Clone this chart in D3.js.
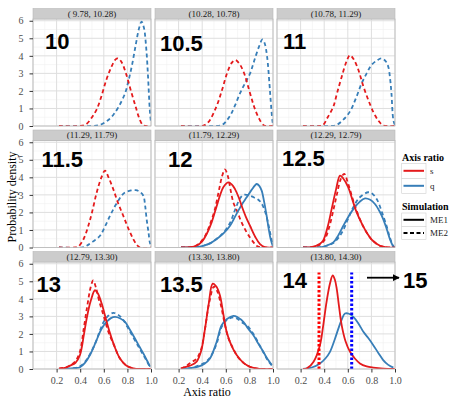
<!DOCTYPE html>
<html><head><meta charset="utf-8">
<script src="https://cdn.jsdelivr.net/npm/d3@7"></script>
<style>body{margin:0;background:#fff}svg{display:block}</style>
</head><body>
<svg id="c" width="450" height="399"></svg>
<script>
const stripLabels = ["( 9.78, 10.28)","(10.28, 10.78)","(10.78, 11.29)","(11.29, 11.79)","(11.79, 12.29)","(12.29, 12.79)","(12.79, 13.30)","(13.30, 13.80)","(13.80, 14.30)"];
const bigLabels = ["10","10.5","11","11.5","12","12.5","13","13.5","14"];
const xTicks = [0.2,0.4,0.6,0.8,1.0];
const yTicks = [0,1,2,3,4,5,6];

const sME1 = [null,null,null,null,
 [[0.22,0],[0.3,0.02],[0.35,0.1],[0.4,0.35],[0.44,0.8],[0.48,1.43],[0.52,2.3],[0.55,2.95],[0.58,3.45],[0.62,3.71],[0.65,3.6],[0.678,3.33],[0.71,2.85],[0.734,2.38],[0.77,1.75],[0.805,1.24],[0.85,0.6],[0.89,0.19],[0.93,0.02],[1,0]],
 [[0.22,0],[0.3,0.03],[0.36,0.2],[0.39,0.38],[0.43,1.2],[0.463,2.19],[0.5,3.3],[0.534,4.1],[0.56,3.95],[0.604,3.43],[0.64,2.7],[0.675,2.0],[0.72,1.35],[0.76,0.86],[0.81,0.4],[0.873,0.1],[0.93,0.01],[1,0]],
 [[0.22,0.02],[0.28,0.08],[0.314,0.19],[0.36,0.35],[0.398,0.8],[0.43,1.9],[0.455,2.88],[0.49,3.9],[0.525,4.49],[0.55,4.3],[0.582,3.73],[0.62,2.8],[0.653,2.03],[0.69,1.3],[0.737,0.6],[0.79,0.2],[0.85,0.04],[0.9,0],[1,0]],
 [[0.22,0.02],[0.24,0.08],[0.3,0.2],[0.353,0.42],[0.39,1.0],[0.424,2.3],[0.455,3.7],[0.489,4.87],[0.52,4.7],[0.55,4.2],[0.58,3.1],[0.607,2.12],[0.65,1.3],[0.692,0.8],[0.75,0.35],[0.805,0.13],[0.87,0.02],[1,0]],
 [[0.22,0],[0.25,0.02],[0.31,0.42],[0.364,1.36],[0.39,2.4],[0.42,3.83],[0.45,4.9],[0.472,5.34],[0.49,5.1],[0.506,4.58],[0.525,3.6],[0.548,2.5],[0.58,1.6],[0.619,0.98],[0.66,0.6],[0.703,0.32],[0.76,0.15],[0.816,0.08],[0.9,0.02],[1,0]]
];
const sME2 = [
 [[0.22,0],[0.4,0],[0.45,0.1],[0.5,0.5],[0.54,0.95],[0.58,1.7],[0.62,2.6],[0.66,3.3],[0.7,3.8],[0.72,3.85],[0.75,3.65],[0.79,2.95],[0.83,2.0],[0.87,1.1],[0.9,0.45],[0.93,0.05],[0.95,0],[1,0]],
 [[0.22,0],[0.4,0],[0.45,0.2],[0.52,1.1],[0.57,2.1],[0.61,3.0],[0.65,3.6],[0.68,3.76],[0.71,3.6],[0.75,3.1],[0.8,2.0],[0.84,1.1],[0.88,0.45],[0.92,0.05],[0.95,0],[1,0]],
 [[0.22,0],[0.36,0],[0.39,0.05],[0.43,0.5],[0.477,1.1],[0.51,1.9],[0.548,2.8],[0.59,3.7],[0.618,4.04],[0.65,3.8],[0.69,3.19],[0.73,2.3],[0.774,1.48],[0.82,0.75],[0.86,0.3],[0.9,0.03],[0.95,0],[1,0]],
 [[0.22,0],[0.36,0],[0.384,0.05],[0.43,0.5],[0.469,1.24],[0.5,2.0],[0.54,3.14],[0.58,4.0],[0.61,4.38],[0.64,4.0],[0.68,3.33],[0.72,2.55],[0.765,1.81],[0.81,1.05],[0.85,0.48],[0.88,0.15],[0.907,0],[1,0]],
 [[0.22,0],[0.3,0.02],[0.36,0.15],[0.42,0.6],[0.47,1.4],[0.508,2.19],[0.54,3.2],[0.57,4.1],[0.593,4.45],[0.62,4.0],[0.64,3.3],[0.664,2.57],[0.7,2.0],[0.734,1.43],[0.77,0.95],[0.805,0.57],[0.84,0.25],[0.86,0.1],[0.9,0],[1,0]],
 [[0.22,0],[0.3,0.02],[0.36,0.15],[0.4,0.4],[0.44,1.1],[0.48,2.2],[0.51,3.1],[0.54,3.9],[0.57,4.2],[0.6,3.7],[0.64,2.8],[0.68,2.0],[0.72,1.35],[0.76,0.85],[0.81,0.4],[0.873,0.1],[0.93,0.01],[1,0]],
 [[0.22,0.02],[0.28,0.1],[0.314,0.2],[0.36,0.45],[0.398,1.0],[0.43,2.3],[0.46,3.6],[0.49,4.7],[0.51,5.05],[0.535,4.6],[0.56,3.9],[0.6,3.0],[0.64,2.1],[0.69,1.3],[0.737,0.6],[0.79,0.2],[0.85,0.03],[0.9,0],[1,0]],
 [[0.22,0.02],[0.26,0.15],[0.3,0.35],[0.353,0.6],[0.39,1.1],[0.424,2.3],[0.46,3.8],[0.5,4.7],[0.53,4.4],[0.56,3.6],[0.59,2.6],[0.62,1.8],[0.66,1.2],[0.7,0.7],[0.75,0.35],[0.805,0.12],[0.87,0.02],[1,0]],
 null
];
const qME1 = [null,null,null,null,
 [[0.22,0],[0.35,0.02],[0.41,0.1],[0.47,0.25],[0.523,0.48],[0.58,0.8],[0.636,1.24],[0.67,1.65],[0.706,2.1],[0.74,2.5],[0.777,2.86],[0.82,3.3],[0.862,3.62],[0.885,3.5],[0.904,3.24],[0.925,2.6],[0.946,1.81],[0.965,1.0],[0.98,0.48],[1,0.05]],
 [[0.22,0],[0.36,0.01],[0.42,0.1],[0.477,0.29],[0.52,0.7],[0.562,1.24],[0.6,1.7],[0.647,2.19],[0.7,2.6],[0.746,2.8],[0.79,2.72],[0.83,2.48],[0.87,2.05],[0.9,1.62],[0.93,1.05],[0.957,0.48],[0.986,0.06],[1,0]],
 [[0.22,0],[0.3,0.02],[0.35,0.05],[0.398,0.1],[0.44,0.35],[0.483,0.8],[0.53,1.5],[0.568,2.12],[0.6,2.5],[0.624,2.69],[0.66,2.9],[0.695,2.97],[0.74,2.88],[0.78,2.69],[0.82,2.25],[0.864,1.74],[0.9,1.3],[0.935,0.89],[0.965,0.5],[0.992,0.13]],
 [[0.22,0],[0.3,0.05],[0.367,0.13],[0.42,0.3],[0.466,0.6],[0.52,1.5],[0.565,2.5],[0.61,2.85],[0.664,3.03],[0.7,2.95],[0.749,2.69],[0.79,2.3],[0.834,1.93],[0.875,1.45],[0.918,0.98],[0.955,0.55],[0.99,0.23]],
 [[0.22,0],[0.3,0.1],[0.364,0.32],[0.41,0.6],[0.449,0.98],[0.49,1.7],[0.52,2.3],[0.55,2.85],[0.576,3.16],[0.61,3.15],[0.647,2.97],[0.69,2.6],[0.732,2.12],[0.775,1.75],[0.816,1.36],[0.86,0.9],[0.9,0.51],[0.94,0.25],[0.986,0.08]]
];
const qME2 = [
 [[0.22,0],[0.5,0],[0.57,0.07],[0.63,0.3],[0.68,0.63],[0.73,1.15],[0.78,1.86],[0.81,2.6],[0.84,3.5],[0.87,4.6],[0.9,5.6],[0.92,5.95],[0.94,5.6],[0.96,4.4],[0.975,2.8],[0.99,0.9],[1.0,0.2]],
 [[0.22,0],[0.5,0],[0.565,0.05],[0.6,0.25],[0.64,0.63],[0.68,1.2],[0.72,1.86],[0.76,2.4],[0.806,3.0],[0.84,3.7],[0.88,4.5],[0.91,4.93],[0.93,4.7],[0.95,3.95],[0.97,2.4],[0.98,1.48],[0.995,0.3],[1,0.1]],
 [[0.22,0],[0.45,0],[0.505,0.06],[0.56,0.35],[0.618,0.82],[0.67,1.6],[0.717,2.43],[0.76,3.0],[0.8,3.47],[0.85,3.75],[0.887,3.85],[0.92,3.7],[0.943,3.38],[0.96,2.6],[0.97,1.86],[0.986,0.34],[1,0.05]],
 [[0.22,0],[0.42,0],[0.455,0.1],[0.51,0.35],[0.568,0.67],[0.61,1.2],[0.653,1.81],[0.69,2.3],[0.723,2.67],[0.75,2.95],[0.78,3.14],[0.83,3.25],[0.87,3.27],[0.9,3.2],[0.935,2.95],[0.95,2.4],[0.963,1.62],[0.98,0.8],[0.99,0.29],[1,0.1]],
 [[0.22,0],[0.35,0.02],[0.41,0.1],[0.47,0.25],[0.523,0.5],[0.58,0.85],[0.636,1.4],[0.67,2.0],[0.692,2.38],[0.72,2.8],[0.749,3.0],[0.78,3.0],[0.805,2.95],[0.84,2.85],[0.87,2.75],[0.9,2.55],[0.93,2.1],[0.955,1.5],[0.975,0.86],[1,0.1]],
 [[0.22,0],[0.36,0.01],[0.42,0.1],[0.477,0.25],[0.52,0.55],[0.562,1.0],[0.6,1.6],[0.647,2.3],[0.7,2.85],[0.774,3.15],[0.81,3.05],[0.85,2.7],[0.89,2.0],[0.93,1.2],[0.957,0.55],[0.986,0.08],[1,0]],
 [[0.22,0],[0.3,0.02],[0.35,0.05],[0.398,0.15],[0.44,0.4],[0.483,0.85],[0.53,1.5],[0.568,2.2],[0.6,2.7],[0.64,3.05],[0.68,3.2],[0.72,3.1],[0.76,2.85],[0.8,2.4],[0.85,1.8],[0.9,1.2],[0.935,0.8],[0.965,0.45],[0.992,0.1]],
 [[0.22,0],[0.3,0.05],[0.367,0.2],[0.42,0.35],[0.466,0.65],[0.52,1.4],[0.565,2.4],[0.61,2.8],[0.664,2.95],[0.7,2.85],[0.749,2.6],[0.79,2.4],[0.834,2.0],[0.875,1.5],[0.918,0.95],[0.955,0.5],[0.99,0.2]],
 null
];
const vLineX = {s:0.356, q:0.633};
const vLineTop = 5.5;

const colS = "#e41a1c", colQ = "#377eb8";
const svg = d3.select("#c");
const colLeft = [33,155,277], pw = 118;
const rowTop = [19,140.5,262], ph = 107, stripH = 10.5;
const serif = "'Liberation Serif','Times New Roman',serif";
const sans = "'Liberation Sans',Arial,sans-serif";

const defs = svg.append("defs");
defs.append("marker").attr("id","arr").attr("viewBox","0 0 10 10").attr("refX",9).attr("refY",5)
  .attr("markerWidth",4).attr("markerHeight",4).attr("orient","auto")
  .append("path").attr("d","M0,0L10,5L0,10Z").attr("fill","#000");

for (let i=0;i<9;i++){
  const r = Math.floor(i/3), c = i%3;
  const x0 = colLeft[c], y0 = rowTop[r];
  const x = d3.scaleLinear().domain([0,1]).range([x0,x0+pw]);
  const y = d3.scaleLinear().domain([0,6.1]).range([y0+ph,y0]);
  const g = svg.append("g");
  defs.append("clipPath").attr("id","cp"+i).append("rect").attr("x",x0).attr("y",y0-2).attr("width",pw).attr("height",ph+2);
  g.append("rect").attr("x",x0).attr("y",y0).attr("width",pw).attr("height",ph).attr("fill","#fff");
  d3.range(0.1,1,0.2).forEach(v=>g.append("line").attr("x1",x(v)).attr("x2",x(v)).attr("y1",y0).attr("y2",y0+ph).attr("stroke","#f0f0f0").attr("stroke-width",0.6));
  d3.range(0.5,6.1,1).forEach(v=>g.append("line").attr("x1",x0).attr("x2",x0+pw).attr("y1",y(v)).attr("y2",y(v)).attr("stroke","#f0f0f0").attr("stroke-width",0.6));
  xTicks.concat([0]).forEach(v=>g.append("line").attr("x1",x(v)).attr("x2",x(v)).attr("y1",y0).attr("y2",y0+ph).attr("stroke","#dedede").attr("stroke-width",1));
  yTicks.forEach(v=>g.append("line").attr("x1",x0).attr("x2",x0+pw).attr("y1",y(v)).attr("y2",y(v)).attr("stroke","#dedede").attr("stroke-width",1));

  const line = d3.line().x(d=>x(d[0])).y(d=>y(d[1])).curve(d3.curveCatmullRom.alpha(0.5));
  const cg = g.append("g").attr("clip-path",`url(#cp${i})`);
  const draw = (data,col,dash)=>{ if(!data) return;
    cg.append("path").attr("d",line(data)).attr("fill","none").attr("stroke",col).attr("stroke-width",1.8)
      .attr("stroke-dasharray",dash?"4,3":null).attr("stroke-linejoin","round"); };
  draw(qME2[i],colQ,true); draw(sME2[i],colS,true);
  draw(qME1[i],colQ,false); draw(sME1[i],colS,false);
  if (i===8){
    cg.append("line").attr("x1",x(vLineX.s)).attr("x2",x(vLineX.s)).attr("y1",y(0)).attr("y2",y(vLineTop))
      .attr("stroke","#ff0000").attr("stroke-width",3).attr("stroke-dasharray","2.5,2");
    cg.append("line").attr("x1",x(vLineX.q)).attr("x2",x(vLineX.q)).attr("y1",y(0)).attr("y2",y(vLineTop))
      .attr("stroke","#0000ff").attr("stroke-width",3).attr("stroke-dasharray","2.5,2");
  }
  g.append("rect").attr("x",x0).attr("y",y0).attr("width",pw).attr("height",ph).attr("fill","none").attr("stroke","#b8b8b8").attr("stroke-width",0.8);
  g.append("rect").attr("x",x0).attr("y",y0-stripH).attr("width",pw).attr("height",stripH).attr("fill","#cccccc").attr("stroke","#b8b8b8").attr("stroke-width",0.6);
  g.append("text").attr("x",x0+pw/2).attr("y",y0-stripH/2+3.2).attr("text-anchor","middle").attr("font-family",serif).attr("font-size",9).attr("fill","#1a1a1a").text(stripLabels[i]);
  if (c===0){
    const ax = g.append("g").attr("transform",`translate(${x0},0)`).call(d3.axisLeft(y).tickValues(yTicks).tickSize(3.5).tickPadding(6).tickFormat(d3.format("d")));
    ax.select(".domain").remove();
    ax.selectAll("line").attr("stroke","#333");
    ax.selectAll("text").attr("font-family",serif).attr("font-size",10).attr("fill","#4d4d4d");
  }
  if (r===2){
    const ax = g.append("g").attr("transform",`translate(0,${y0+ph})`).call(d3.axisBottom(x).tickValues(xTicks).tickSize(3.5).tickPadding(4).tickFormat(d3.format(".1f")));
    ax.select(".domain").remove();
    ax.selectAll("line").attr("stroke","#333");
    ax.selectAll("text").attr("font-family",serif).attr("font-size",10).attr("fill","#4d4d4d");
  }
}

const bigPos = [[45,49],[160,51],[283,49],[41.5,166.5],[168,166.5],[282,166],[36.5,291.5],[160,291.5],[282.5,288]];
bigLabels.forEach((t,i)=>svg.append("text").attr("x",bigPos[i][0]).attr("y",bigPos[i][1]).attr("font-family",sans).attr("font-weight","bold").attr("font-size",22).attr("fill","#000").text(t));
svg.append("line").attr("x1",367).attr("x2",399).attr("y1",277.7).attr("y2",277.7).attr("stroke","#000").attr("stroke-width",1.8).attr("marker-end","url(#arr)");
svg.append("text").attr("x",403).attr("y",288).attr("font-family",sans).attr("font-weight","bold").attr("font-size",22).text("15");

svg.append("text").attr("x",207).attr("y",396).attr("text-anchor","middle").attr("font-family",serif).attr("font-size",12).attr("fill","#000").text("Axis ratio");
svg.append("text").attr("transform","translate(16,197) rotate(-90)").attr("text-anchor","middle").attr("font-family",serif).attr("font-size",12).attr("fill","#000").text("Probability density");

const lg = svg.append("g");
const legItems1 = [["s",colS],["q",colQ]];
const legItems2 = [["ME1",null],["ME2","4,2.5"]];
lg.append("text").attr("x",402).attr("y",161).attr("font-family",serif).attr("font-weight","bold").attr("font-size",10).text("Axis ratio");
legItems1.forEach((d,k)=>{
  const yy = 163.3 + k*15;
  lg.append("rect").attr("x",401.7).attr("y",yy).attr("width",24.3).attr("height",15).attr("fill","#fff").attr("stroke","#cfcfcf").attr("stroke-width",0.6);
  lg.append("line").attr("x1",403.5).attr("x2",424).attr("y1",yy+7.5).attr("y2",yy+7.5).attr("stroke",d[1]).attr("stroke-width",2);
  lg.append("text").attr("x",430).attr("y",yy+10.5).attr("font-family",serif).attr("font-size",9).attr("fill","#1a1a1a").text(d[0]);
});
lg.append("text").attr("x",402).attr("y",210).attr("font-family",serif).attr("font-weight","bold").attr("font-size",10).text("Simulation");
legItems2.forEach((d,k)=>{
  const yy = 213 + k*13.3;
  lg.append("rect").attr("x",401.7).attr("y",yy).attr("width",24.3).attr("height",13.3).attr("fill","#fff").attr("stroke","#cfcfcf").attr("stroke-width",0.6);
  lg.append("line").attr("x1",403.5).attr("x2",424).attr("y1",yy+6.8).attr("y2",yy+6.8).attr("stroke","#000").attr("stroke-width",2).attr("stroke-dasharray",d[1]);
  lg.append("text").attr("x",430).attr("y",yy+10).attr("font-family",serif).attr("font-size",9).attr("fill","#1a1a1a").text(d[0]);
});
</script>
</body></html>
